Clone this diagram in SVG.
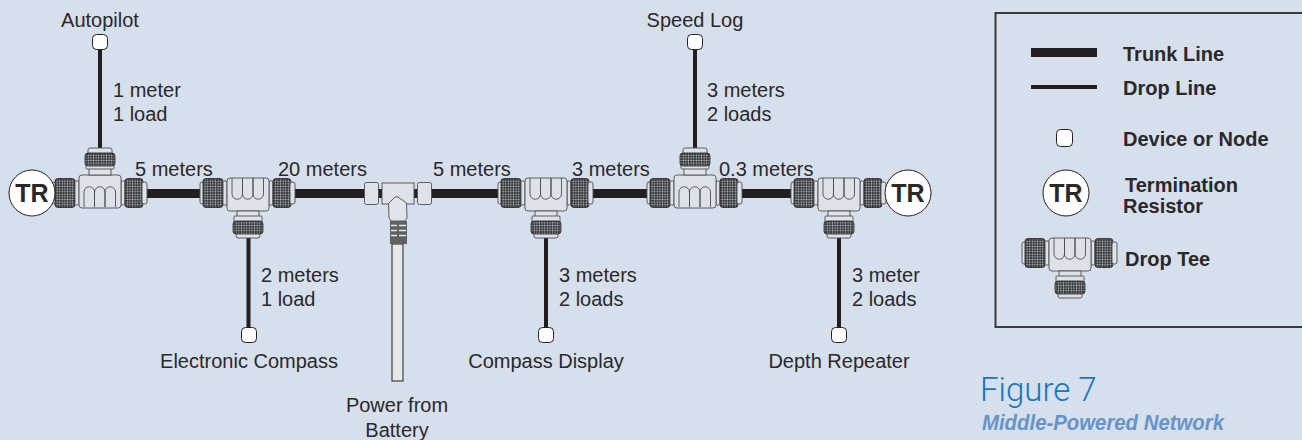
<svg xmlns="http://www.w3.org/2000/svg" width="1302" height="440" viewBox="0 0 1302 440">
<style>
text{font-family:"Liberation Sans",Arial,sans-serif;font-size:20px;fill:#2b2829}
.b{font-weight:700}
.c{text-anchor:middle}
.tr{font-weight:700;font-size:25px;text-anchor:middle}
.trunk{stroke:#231f20;stroke-width:9;fill:none}
.drop{stroke:#231f20;stroke-width:4;fill:none}
.node{fill:#fff;stroke:#231f20;stroke-width:1}
.res{fill:#fff;stroke:#231f20;stroke-width:1}
.bd{fill:#dde2ea;stroke:#4d4e50;stroke-width:0.9}
.ln{fill:none;stroke:#4d4e50;stroke-width:0.9}
.kn{fill:url(#knurl);stroke:#231f20;stroke-width:0.8}
</style>
<defs>
<pattern id="knurl" width="2.600" height="2.600" patternUnits="userSpaceOnUse"><rect width="2.600" height="2.600" fill="#2c2d30"/><circle cx="1.300" cy="1.300" r="0.850" fill="#c4c8ce"/></pattern>
<g id="sideL"><rect class="bd" x="-48" y="-11" width="6" height="22" rx="2"/><rect class="kn" x="-45" y="-14.500" width="20" height="29" rx="3"/><rect class="bd" x="-25" y="-12" width="4" height="24" rx="1"/></g>
<g id="sideR"><rect class="bd" x="21" y="-12" width="4" height="24" rx="1"/><rect class="kn" x="25" y="-14.500" width="18" height="29" rx="3"/><rect class="bd" x="42" y="-11" width="5" height="22" rx="2"/></g>
<g id="teeUp">
<use href="#sideL"/><use href="#sideR"/>
<rect class="bd" x="-21" y="-18" width="42" height="33" rx="3"/>
<path class="ln" d="M-16 14V-1a5 5 0 0 1 10.500 0V14M-5.500 14V-1a5 5 0 0 1 10.500 0V14M5 14V-1a5 5 0 0 1 10.500 0V14"/>
<rect class="bd" x="-11" y="-27" width="22" height="9"/>
<rect class="bd" x="-12" y="-45" width="24" height="8" rx="2"/>
<rect class="bd" x="-14" y="-29" width="28" height="5" rx="1"/>
<rect class="kn" x="-15" y="-40" width="30" height="13" rx="3"/>
</g>
<g id="teeDown">
<use href="#sideL"/><use href="#sideR"/>
<rect class="bd" x="-21" y="-15" width="42" height="33" rx="3"/>
<path class="ln" d="M-16 -15V1a5 5 0 0 0 10.500 0V-15M-5.500 -15V1a5 5 0 0 0 10.500 0V-15M5 -15V1a5 5 0 0 0 10.500 0V-15"/>
<rect class="bd" x="-11" y="18" width="22" height="7"/>
<rect class="bd" x="-14" y="23" width="28" height="6" rx="1"/>
<rect class="bd" x="-12" y="38" width="24" height="7" rx="2"/>
<rect class="kn" x="-15" y="28" width="30" height="13" rx="3"/>
</g>
</defs>
<rect width="1302" height="440" fill="#d6dfec"/>
<g id="connectors">
<path class="trunk" d="M140 193.500H208M288 193.500H366M429 193.500H505M586 193.500H655M738 193.500H798"/>
<path class="drop" d="M100 48V150M695 48V150M248.500 236V330M546 236V330M839 236V330"/>
</g>
<g id="autopilot"><rect class="node" x="92.500" y="34.500" width="15" height="15" rx="4"/><text class="c" x="100" y="27">Autopilot</text><text x="113" y="97">1 meter</text><text x="113" y="121">1 load</text></g>
<g id="speed-log"><rect class="node" x="687.500" y="34.500" width="15" height="15" rx="4"/><text class="c" x="695" y="27">Speed Log</text><text x="707" y="97">3 meters</text><text x="707" y="121">2 loads</text></g>
<g id="electronic-compass"><rect class="node" x="241.500" y="327.500" width="15" height="15" rx="4"/><text class="c" x="249" y="368">Electronic Compass</text><text x="261" y="282">2 meters</text><text x="261" y="306">1 load</text></g>
<g id="compass-display"><rect class="node" x="538.500" y="327.500" width="15" height="15" rx="4"/><text class="c" x="546" y="368">Compass Display</text><text x="559" y="282">3 meters</text><text x="559" y="306">2 loads</text></g>
<g id="depth-repeater"><rect class="node" x="831.500" y="327.500" width="15" height="15" rx="4"/><text class="c" x="839" y="368">Depth Repeater</text><text x="852" y="282">3 meter</text><text x="852" y="306">2 loads</text></g>
<g id="tee-1"><use href="#teeUp" x="100" y="193"/></g>
<g id="tee-2"><use href="#teeDown" x="248" y="193"/></g>
<g id="tee-3"><use href="#teeDown" x="546" y="193"/></g>
<g id="tee-4"><use href="#teeUp" x="695" y="193"/></g>
<g id="tee-5"><use href="#teeDown" x="839" y="193"/></g>
<g id="tr-left"><circle class="res" cx="32" cy="193" r="23"/><text class="tr" x="32" y="202">TR</text></g>
<g id="tr-right"><circle class="res" cx="908" cy="193" r="23"/><text class="tr" x="908" y="202">TR</text></g>
<g id="power">
<rect x="392" y="244" width="11" height="137" fill="#e6e7e8" stroke="#231f20" stroke-width="1"/>
<rect x="402" y="245" width="2" height="135" fill="#808285"/>
<rect x="378" y="189" width="40" height="9" fill="#231f20"/>
<rect class="bd" x="364.500" y="182.500" width="14" height="22" rx="2"/>
<rect class="bd" x="417.500" y="182.500" width="14" height="22" rx="2"/>
<rect class="bd" x="382" y="183" width="32" height="21"/>
<path d="M388.500 203.500L395 197L398 197L406.500 203L407 218L405 221H391L389 218Z" fill="#e1e4ea" stroke="#4d4e50" stroke-width="0.9"/>
<rect x="390" y="221" width="17" height="23" fill="#5f6062"/>
<path d="M391 225.500H397M399 225.500H406M391 230.500H397M399 230.500H406M391 235.500H397M399 235.500H406" stroke="#e6e7e8" stroke-width="1.500"/>
<text class="c" x="397" y="412">Power from</text><text class="c" x="397" y="437">Battery</text>
</g>
<g id="span-labels">
<text x="135" y="176">5 meters</text><text x="278" y="176">20 meters</text><text x="433" y="176">5 meters</text><text x="572" y="176">3 meters</text><text x="719" y="176">0.3 meters</text>
</g>
<g id="legend">
<path d="M1303 13H995.500V327H1303" fill="none" stroke="#3a3a3c" stroke-width="2"/>
<rect x="1031" y="48" width="66" height="9" fill="#231f20"/>
<rect x="1031" y="85" width="66" height="4" fill="#231f20"/>
<rect class="node" x="1056.500" y="129.500" width="16" height="17" rx="4"/>
<circle class="res" cx="1066" cy="193" r="23"/><text class="tr" x="1066" y="202">TR</text>
<use href="#teeDown" x="1070" y="253"/>
<text class="b" x="1123" y="61">Trunk Line</text><text class="b" x="1123" y="95">Drop Line</text><text class="b" x="1123" y="146">Device or Node</text>
<text class="b" x="1125" y="192">Termination</text><text class="b" x="1123" y="213">Resistor</text><text class="b" x="1125" y="266">Drop Tee</text>
</g>
<g id="caption">
<text x="980" y="401" style="font-family:Roboto,'Liberation Sans',sans-serif;font-weight:300;font-size:33px;fill:#1b75bb">Figure 7</text>
<text x="982" y="430" textLength="242" lengthAdjust="spacingAndGlyphs" style="font-weight:700;font-style:italic;font-size:22px;fill:#6694c9">Middle-Powered Network</text>
</g>
</svg>
